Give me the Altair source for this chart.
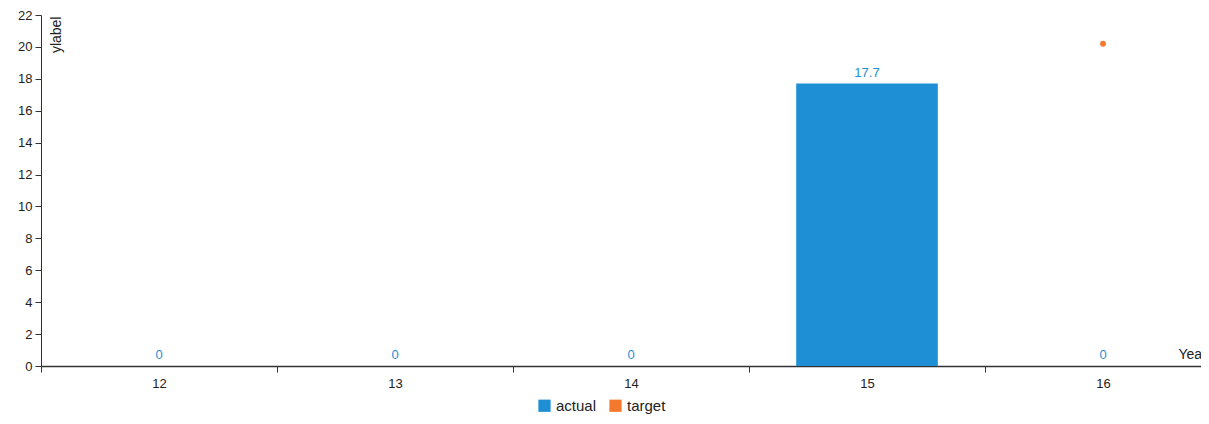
import altair as alt
import pandas as pd

years = [12, 13, 14, 15, 16]
actual = [0, 0, 0, 17.7, 0]
target = [None, None, None, None, 20.2]
y_ticks = list(range(0, 23, 2))
x_label_values = [11.5, 12, 12.5, 13, 13.5, 14, 14.5, 15, 15.5, 16]
series_names = ["actual", "target"]
series_colors = ["#1f8fd5", "#f4792e"]

rows = []
for yr, a, t in zip(years, actual, target):
    rows.append({"year": yr, "series": "actual", "value": a})
    rows.append({"year": yr, "series": "target", "value": t})
df = pd.DataFrame(rows)

FONT = "Liberation Sans"
PLOT_W = 1160
BAND_PX = 236
x_max = 11.5 + PLOT_W / BAND_PX

x_scale = alt.Scale(domain=[11.5, x_max], nice=False, zero=False)

x_axis = alt.Axis(
    title="Year",
    values=x_label_values,
    labelExpr="datum.value % 1 === 0 ? datum.value : ''",
    tickOpacity={"expr": "datum.value % 1 === 0 ? 0 : 1"},
    grid=False,
    labelAngle=0,
    titleX=1137,
    titleY=-8,
    titleAlign="left",
    titleBaseline="alphabetic",
    titleFontWeight="normal",
    titleFontSize=14,
    titleColor="#222",
    labelFontSize=13,
    labelColor="#222",
    labelPadding=5,
    labelFlush=False,
    labelOverlap=False,
    tickSize=6,
    domainColor="#333",
    tickColor="#333",
    domainWidth=1.5,
)

y_enc = alt.Y(
    "value:Q",
    scale=alt.Scale(domain=[0, 22], nice=False),
    axis=alt.Axis(
        title="ylabel",
        values=y_ticks,
        grid=False,
        titleAngle=270,
        titleX=8,
        titleY=1,
        titleAlign="right",
        titleBaseline="top",
        titleFontWeight="normal",
        titleFontSize=14,
        titleColor="#222",
        labelFontSize=13,
        labelColor="#222",
        labelPadding=3,
        tickSize=6,
        domainColor="#333",
        tickColor="#333",
    ),
)

color_enc = alt.Color(
    "series:N",
    scale=alt.Scale(domain=series_names, range=series_colors),
    legend=alt.Legend(
        title=None,
        orient="none",
        legendX=496,
        legendY=383,
        direction="horizontal",
        symbolType="square",
        symbolSize=150,
        symbolStrokeWidth=0,
        labelFontSize=15,
        labelColor="#222",
        labelOffset=4,
        columnPadding=11,
    ),
)

base = alt.Chart(df)

bars = (
    base.transform_filter(alt.datum.series == "actual")
    .transform_calculate(x0="datum.year - 0.3", x1="datum.year + 0.3")
    .mark_bar()
    .encode(
        x=alt.X("x0:Q", scale=x_scale, axis=x_axis),
        x2="x1:Q",
        y=y_enc,
        y2=alt.datum(0),
        color=color_enc,
    )
)

labels = base.transform_filter(alt.datum.series == "actual").mark_text(
    baseline="bottom", dy=-4, fontSize=13, color="#1f8fd5", font=FONT
).encode(
    x=alt.X("year:Q", scale=x_scale, axis=x_axis),
    y=y_enc,
    text=alt.Text("value:Q"),
)

points = base.transform_filter(alt.datum.series == "target").transform_filter(
    "isValid(datum.value)"
).mark_point(filled=True, size=34, opacity=1).encode(
    x=alt.X("year:Q", scale=x_scale, axis=x_axis),
    y=y_enc,
    color=color_enc,
)

chart = (
    alt.layer(bars, labels, points)
    .properties(
        width=PLOT_W,
        height=351,
        autosize=alt.AutoSizeParams(type="none"),
        padding={"left": 33, "top": 7, "right": 0, "bottom": 50},
        background="white",
    )
    .configure(font=FONT)
    .configure_axis(grid=False)
    .configure_view(stroke="transparent", strokeWidth=0)
)

chart.save("out.html", embed_options={"renderer": "svg", "actions": False})
